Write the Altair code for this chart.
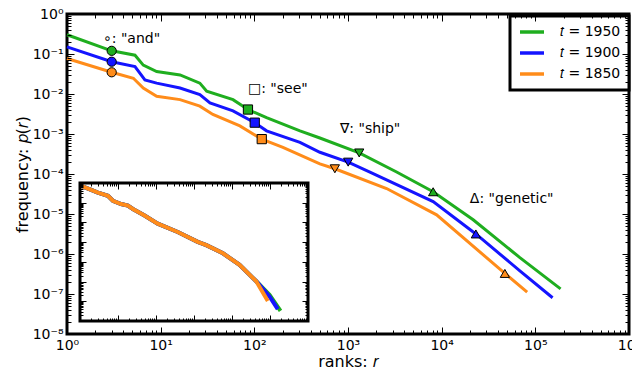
import altair as alt
import pandas as pd

# ---------------- data ----------------
SERIES = ["𝑡 = 1950", "𝑡 = 1900", "𝑡 = 1850"]
COLORS = ["#1fae1f", "#1414ff", "#ff8c1a"]

rank_1950 = [1, 3.0, 5.32, 6.52, 9.06, 16.1, 26.2, 31.0, 59.2, 85.5, 135, 307, 501,
             1318, 3304, 8110, 21700, 68400, 186000]
freq_1950 = [0.303, 0.120, 0.0933, 0.0528, 0.0363, 0.0300, 0.0187, 0.0117, 0.00723,
             0.00409, 0.00255, 0.00120, 0.000794, 0.000336, 0.000112, 3.60e-5,
             7.19e-6, 8.11e-7, 1.34e-7]
rank_1900 = [1, 3.0, 5.32, 6.79, 9.06, 16.1, 26.2, 33.6, 59.2, 101, 135, 307, 501,
             1005, 1714, 8110, 23170, 68400, 152800]
freq_1900 = [0.151, 0.0641, 0.0483, 0.0225, 0.0187, 0.0141, 0.00962, 0.00600, 0.00380,
             0.00192, 0.00120, 0.000617, 0.000349, 0.000198, 0.000112, 2.04e-5,
             3.17e-6, 3.80e-7, 8.05e-8]
rank_1850 = [1, 3.0, 5.11, 6.52, 9.06, 16.1, 26.2, 36.1, 70.1, 120, 202, 501, 724,
             2582, 8831, 47300, 81800]
freq_1850 = [0.0774, 0.0349, 0.0248, 0.0141, 0.00877, 0.00723, 0.00497, 0.00308,
             0.00159, 0.000745, 0.000465, 0.000179, 0.000135, 4.34e-5, 9.55e-6,
             3.27e-7, 1.11e-7]

# highlighted words: rank and frequency per series (1950, 1900, 1850)
WORDS = ["and", "see", "ship", "genetic"]
SHAPES = ["circle", "square", "triangle-down", "triangle-up"]
word_rank_1950 = [3.0, 85.5, 1318, 8110]
word_freq_1950 = [0.120, 0.00409, 0.000336, 3.60e-5]
word_rank_1900 = [3.0, 101, 1005, 23170]
word_freq_1900 = [0.0641, 0.00192, 0.000198, 3.17e-6]
word_rank_1850 = [3.0, 120, 724, 47300]
word_freq_1850 = [0.0349, 0.000745, 0.000135, 3.27e-7]

# annotation labels
ann_text = ['∘: "and"', '□: "see"', '∇: "ship"', 'Δ: "genetic"']
ann_rank = [2.42, 85.5, 820, 20000]
ann_freq = [0.241, 0.0133, 0.00137, 2.41e-5]

# inset (rescaled curves, collapsed)
inset_x_1950 = [0.108, 0.296, 0.543, 0.735, 1.21, 1.82, 2.46, 4.99, 11.1, 37.3, 125, 211,
                577, 1581, 4345, 9700, 18900]
inset_y_1950 = [0.708, 0.327, 0.224, 0.126, 0.0861, 0.0708, 0.0484, 0.0224, 0.00861,
                0.00327, 0.00104, 0.000708, 0.000272, 7.08e-5, 1.04e-5, 2.11e-6, 3.27e-7]
inset_x_1900 = [0.108, 0.296, 0.543, 0.735, 1.21, 1.82, 2.46, 4.99, 11.1, 37.3, 125, 211,
                577, 1581, 4345, 9700, 16000]
inset_y_1900 = [0.708, 0.327, 0.224, 0.126, 0.0861, 0.0708, 0.0484, 0.0224, 0.00861,
                0.00327, 0.00104, 0.000708, 0.000272, 7.08e-5, 1.04e-5, 1.78e-6, 3.98e-7]
inset_x_1850 = [0.108, 0.296, 0.543, 0.735, 1.21, 1.82, 2.46, 4.99, 11.1, 37.3, 125, 211,
                577, 1581, 4345, 8750]
inset_y_1850 = [0.708, 0.327, 0.224, 0.126, 0.0861, 0.0708, 0.0484, 0.0224, 0.00861,
                0.00327, 0.00104, 0.000708, 0.000272, 7.08e-5, 1.04e-5, 1.04e-6]

X_TICKS = [m * 10.0 ** e for e in range(0, 6) for m in range(1, 10)] + [1e6]
Y_TICKS = [m * 10.0 ** e for e in range(-8, 0) for m in range(1, 10)] + [1.0]
IX_TICKS = [m * 10.0 ** e for e in range(-1, 5) for m in range(1, 10)] + [1e5]
IY_TICKS = [m * 10.0 ** e for e in range(-7, 0) for m in range(1, 10)] + [1.0]

# ---------------- tables ----------------
main_df = pd.DataFrame(
    [{"series": s, "rank": r, "freq": f}
     for s, rs, fs in zip(SERIES, [rank_1950, rank_1900, rank_1850],
                          [freq_1950, freq_1900, freq_1850])
     for r, f in zip(rs, fs)])
mark_df = pd.DataFrame(
    [{"series": s, "word": w, "rank": r, "freq": f}
     for s, rs, fs in zip(SERIES, [word_rank_1950, word_rank_1900, word_rank_1850],
                          [word_freq_1950, word_freq_1900, word_freq_1850])
     for w, r, f in zip(WORDS, rs, fs)])
ann_df = pd.DataFrame({"text": ann_text, "rank": ann_rank, "freq": ann_freq})
inset_df = pd.DataFrame(
    [{"series": s, "x": x, "y": y}
     for s, xs, ys in zip(SERIES, [inset_x_1950, inset_x_1900, inset_x_1850],
                          [inset_y_1950, inset_y_1900, inset_y_1850])
     for x, y in zip(xs, ys)])

# ---------------- styling helpers ----------------
FONT = "DejaVu Sans"
W, H = 562, 320
INSET_X = [13, 241]
INSET_Y = [307, 169]

MAJ = "abs(log(datum.value)/LN10 - round(log(datum.value)/LN10)) < 0.001"
SUP = "['⁰','¹','²','³','⁴','⁵','⁶','⁷','⁸','⁹']"
LABEL_EXPR = (f"({MAJ}) ? '10' + (datum.value < 0.5 ? '⁻' : '') + "
              f"{SUP}[abs(round(log(datum.value)/LN10))] : ''")


def axis(orient, values, offset, labels=False, size=7, minor=4, title=None, **kw):
    extra = dict(kw)
    extra["title"] = title if title is not None else ""
    return alt.Axis(
        orient=orient, values=values, offset=offset, domain=False, grid=False,
        tickSize=size, tickWidth=1, tickColor="black",
        tickDash={"condition": {"test": f"!({MAJ})", "value": [0, size - minor, minor, 0]},
                  "value": [size, 0]},
        labels=labels, labelExpr=LABEL_EXPR, labelFont=FONT, labelFontSize=14,
        labelColor="black", labelFlush=False, labelOverlap=False, labelPadding=4,
        titleFont=FONT, titleFontSize=16, titleFontWeight="normal", titleColor="black",
        zindex=1, **extra)


main_x = alt.Scale(type="log", domain=[1, 1e6])
main_y = alt.Scale(type="log", domain=[1e-8, 1])
ins_x = alt.Scale(type="log", domain=[0.1, 1e5], range=INSET_X)
ins_y = alt.Scale(type="log", domain=[1e-7, 1], range=INSET_Y)
color_scale = alt.Scale(domain=SERIES, range=COLORS)

lines = alt.Chart(main_df).mark_line(strokeWidth=3).encode(
    x=alt.X("rank:Q", scale=main_x,
            axis=axis("bottom", X_TICKS, -7, labels=True, title="ranks: 𝑟", titlePadding=1)),
    y=alt.Y("freq:Q", scale=main_y,
            axis=axis("left", Y_TICKS, -7, labels=True, title="frequency: 𝑝(𝑟)",
                      titlePadding=2)),
    color=alt.Color("series:N", scale=color_scale, sort=SERIES,
                    legend=alt.Legend(title=None, orient="none", legendX=443, legendY=2,
                                      direction="vertical", strokeColor="black",
                                      fillColor="white", padding=8,
                                      symbolType="stroke", symbolSize=576,
                                      symbolStrokeWidth=3.5, labelFont=FONT,
                                      labelFontSize=14, labelColor="black",
                                      labelOffset=14, rowPadding=5, clipHeight=16,
                                      cornerRadius=0)),
)

points = alt.Chart(mark_df).mark_point(filled=True, stroke="black", strokeWidth=1,
                                       opacity=1, size=85).encode(
    x=alt.X("rank:Q", scale=main_x, axis=axis("top", X_TICKS, -7)),
    y=alt.Y("freq:Q", scale=main_y, axis=axis("right", Y_TICKS, -7)),
    fill=alt.Fill("series:N", scale=color_scale, legend=None),
    shape=alt.Shape("word:N", scale=alt.Scale(domain=WORDS, range=SHAPES), legend=None),
)

texts = alt.Chart(ann_df).mark_text(align="left", baseline="middle", font=FONT,
                                    fontSize=14, color="black").encode(
    x=alt.X("rank:Q", scale=main_x, axis=None),
    y=alt.Y("freq:Q", scale=main_y, axis=None),
    text="text:N",
)

inset_frame = alt.Chart(pd.DataFrame({"a": [0]})).mark_rect(
    fill="white", stroke="black", strokeWidth=3).encode(
    x=alt.X(datum=0.1, type="quantitative", scale=ins_x,
            axis=axis("top", IX_TICKS, -(INSET_Y[1] + 6), size=6, minor=3)),
    x2=alt.X2(datum=1e5),
    y=alt.Y(datum=1, type="quantitative", scale=ins_y,
            axis=axis("right", IY_TICKS, INSET_X[1] - 6 - W, size=6, minor=3)),
    y2=alt.Y2(datum=1e-7),
)

inset_lines = alt.Chart(inset_df).mark_line(strokeWidth=4).encode(
    x=alt.X("x:Q", scale=ins_x, axis=axis("bottom", IX_TICKS, INSET_Y[0] - 6 - H,
                                           size=6, minor=3)),
    y=alt.Y("y:Q", scale=ins_y, axis=axis("left", IY_TICKS, -(INSET_X[0] + 6),
                                           size=6, minor=3)),
    color=alt.Color("series:N", scale=color_scale, sort=SERIES, legend=None),
)

chart = alt.layer(lines, points, texts, inset_frame, inset_lines).resolve_scale(
    x="independent", y="independent", color="independent", fill="independent",
    shape="independent",
).properties(
    width=W, height=H,
    autosize=alt.AutoSizeParams(type="none"),
    padding={"left": 59, "top": 6, "right": 3, "bottom": 37},
    background="white",
).configure_view(stroke="black", strokeWidth=3).configure_legend(strokeWidth=3)

chart.save("out.html", embed_options={"renderer": "svg", "actions": False})
